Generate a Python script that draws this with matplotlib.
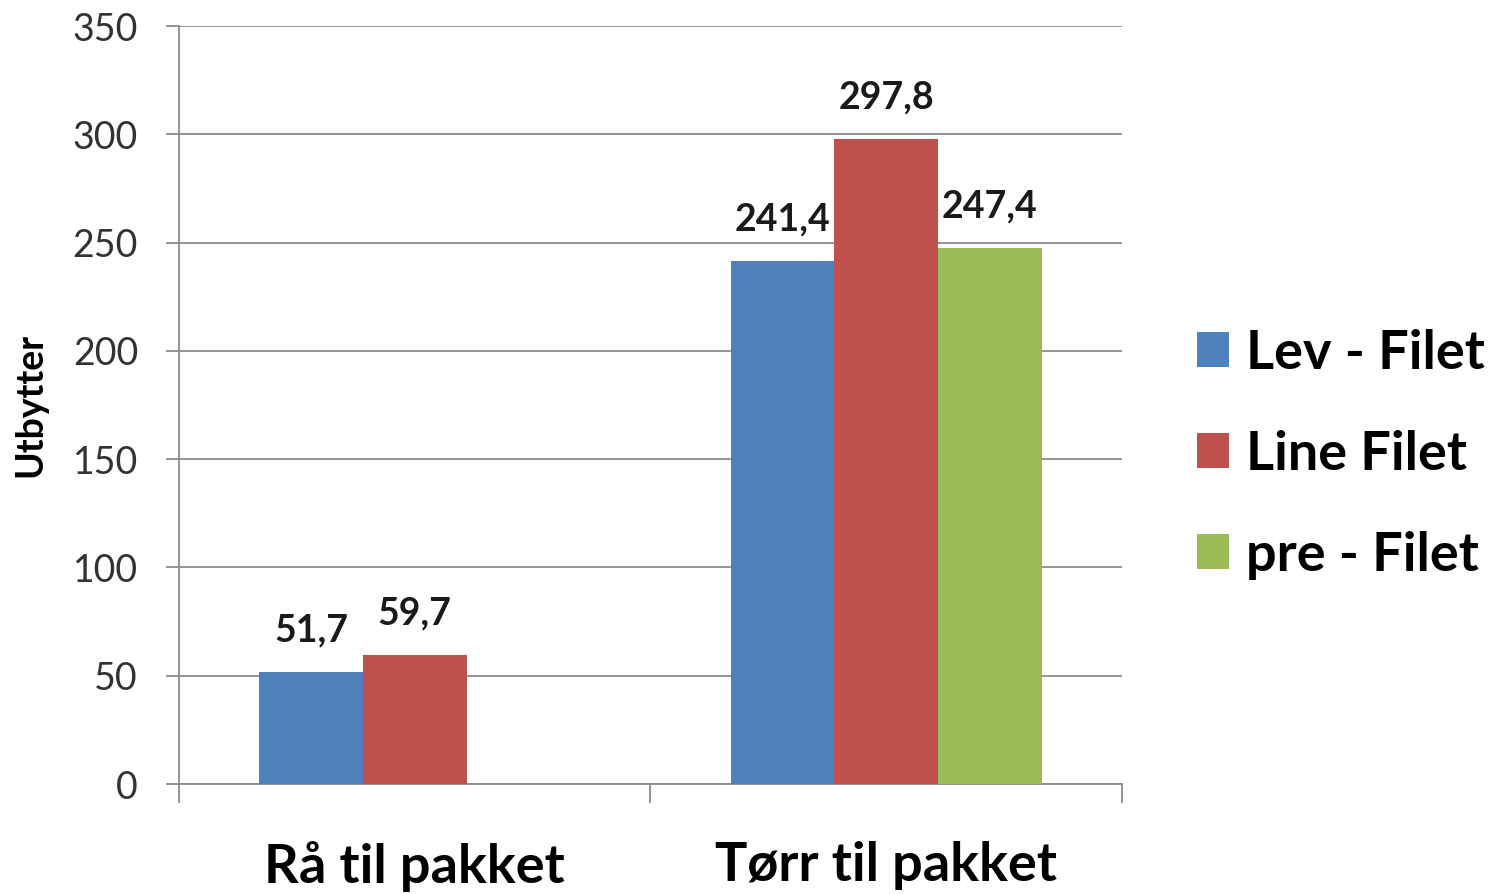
import numpy as np
import matplotlib.pyplot as plt

plt.rcParams['font.family'] = ['Lato', 'DejaVu Sans']

categories = ['Rå til pakket', 'Tørr til pakket']
series_names = ['Lev - Filet', 'Line Filet', 'pre - Filet']
lev_filet = [51.7, 241.4]
line_filet = [59.7, 297.8]
pre_filet = [np.nan, 247.4]
colors = ['#4F81BD', '#C0504D', '#9BBB59']

fig = plt.figure(figsize=(14.99, 8.94), dpi=100)
ax = fig.add_axes([0.1194, 0.1230, 0.6291, 0.8479])

x = np.arange(len(categories))
w = 0.22
all_series = [lev_filet, line_filet, pre_filet]
for i, (vals, name, c) in enumerate(zip(all_series, series_names, colors)):
    pos = x + (i - 1) * w
    ax.bar(pos, vals, w, color=c, label=name, zorder=3)
    for p, v in zip(pos, vals):
        if np.isnan(v):
            continue
        ax.annotate(f'{v:.1f}'.replace('.', ','), (p, v), xytext=(0, 22),
                    textcoords='offset points', ha='center', va='baseline',
                    fontsize=27, fontweight='bold', color='#1a1a1a')

ax.set_xlim(-0.5, 1.5)
ax.set_ylim(0, 350)
ax.set_yticks(np.arange(0, 351, 50))
ax.yaxis.grid(True, color='#8c8c8c', linewidth=1.3, zorder=0)
ax.set_axisbelow(True)

ax.set_xticks(x)
ax.set_xticklabels(categories, fontsize=39, fontweight='bold')
ax.set_xticks([-0.5, 0.5, 1.5], minor=True)
ax.tick_params(axis='x', which='major', length=0, pad=41)
ax.tick_params(axis='x', which='minor', length=14, color='#8c8c8c', width=1.3)
ax.tick_params(axis='y', length=9.5, color='#8c8c8c', width=1.3, labelsize=27,
               labelcolor='#333333', pad=20)

for s in ['top', 'right']:
    ax.spines[s].set_visible(False)
for s in ['left', 'bottom']:
    ax.spines[s].set_color('#8c8c8c')
    ax.spines[s].set_linewidth(1.3)

ax.set_ylabel('Utbytter', fontsize=27, fontweight='bold', labelpad=18)

handles, labels = ax.get_legend_handles_labels()
leg = fig.legend(handles, labels, loc='center left', bbox_to_anchor=(0.7985, 0.492),
                 frameon=False, prop={'size': 39, 'weight': 'bold'},
                 handlelength=0.6, handleheight=0.6, handletextpad=0.3,
                 labelspacing=0.96, borderpad=0, borderaxespad=0)

fig.savefig('out.png', dpi=100)
